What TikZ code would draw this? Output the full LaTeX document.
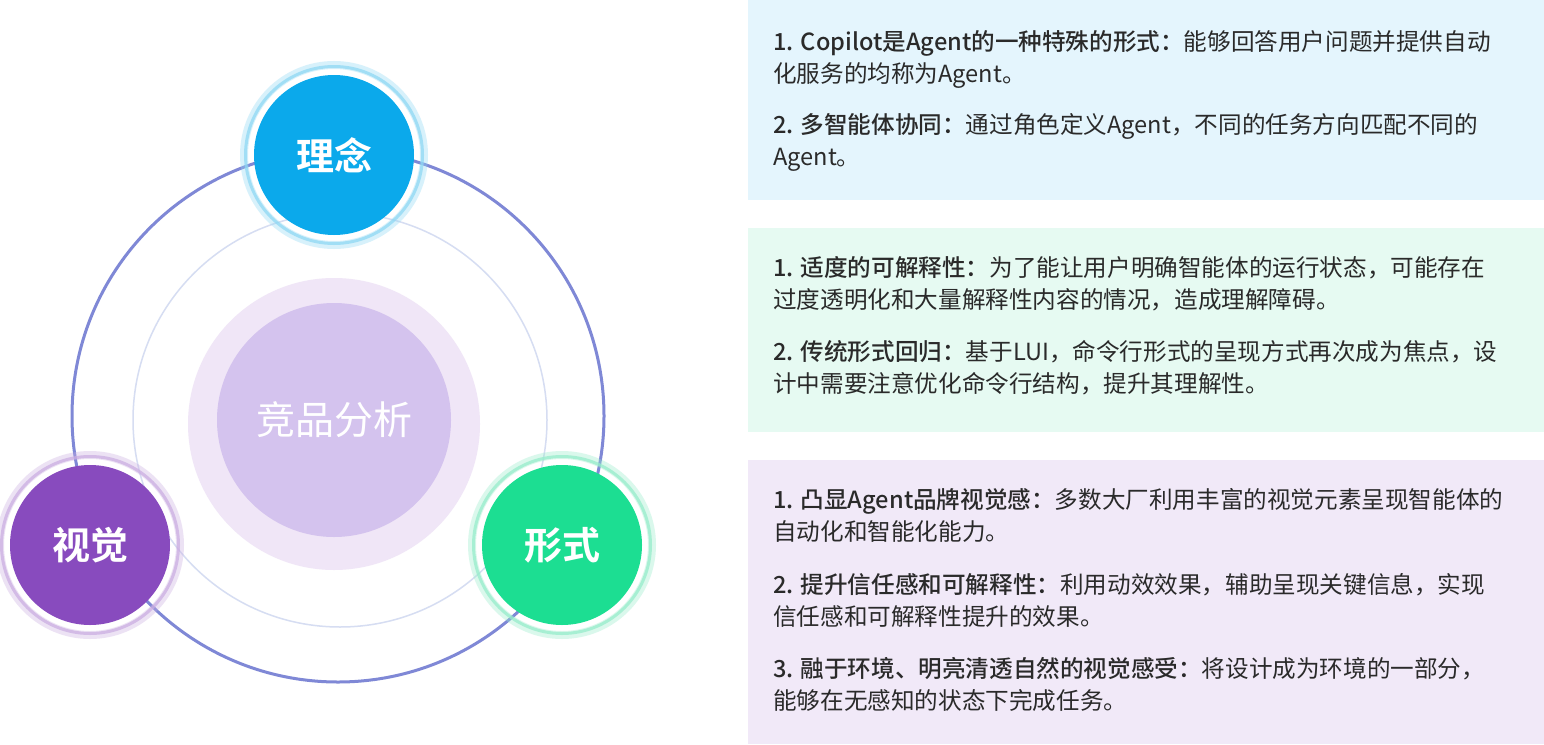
\documentclass[tikz,border=0pt]{standalone}
\usepackage{fontspec}
\setmainfont{Noto Sans CJK SC}[BoldFont={Noto Sans CJK SC Medium}]
\newfontfamily\hubfont{Noto Sans CJK SC Bold}
\definecolor{ringblue}{HTML}{7F88D6}
\definecolor{ringpale}{HTML}{D6DDF2}
\definecolor{coreglow}{HTML}{F0E6F7}
\definecolor{corefill}{HTML}{D4C3EE}
\definecolor{hubblue}{HTML}{0BA9EB}
\definecolor{hubpurple}{HTML}{884BBE}
\definecolor{hubgreen}{HTML}{1CDE92}
\definecolor{haloblue}{HTML}{8FD8F4}
\definecolor{halopurple}{HTML}{CBAEE2}
\definecolor{halogreen}{HTML}{97EDCB}
\definecolor{panelblue}{HTML}{E4F5FD}
\definecolor{panelgreen}{HTML}{E6FAF2}
\definecolor{panelpurple}{HTML}{F1E9F8}
\definecolor{txtgray}{HTML}{2A2A2A}
\begin{document}
\begin{tikzpicture}[x=1pt, y=-1pt,
  every node/.style={inner sep=0pt},
  hub/.style={circle, minimum size=160pt, text=white, font=\fontsize{38}{38}\hubfont},
  halo/.style={line width=8pt, opacity=0.35},
  halocore/.style={line width=3pt, opacity=0.75},
  para/.style={anchor=north west, align=left, text=txtgray, font=\fontsize{23.6}{32.5}\selectfont}]
  \useasboundingbox[fill=white] (0,0) rectangle (1544,744);
  % rings and centre
  \node[circle, minimum size=532pt, draw=ringblue, line width=3pt] (outer) at (338,416) {};
  \node[circle, minimum size=414pt, draw=ringpale, line width=1.5pt] (inner) at (340,420) {};
  \node[circle, minimum size=292pt, fill=coreglow] (glow) at (334,424) {};
  \node[circle, minimum size=234pt, fill=corefill, text=white, font=\fontsize{39}{39}\selectfont] (core) at (334,420) {竞品分析};
  % three hubs with halos
  \node[hub, fill=hubblue] (linian) at (334,155) {理念};
  \node[hub, fill=hubpurple] (shijue) at (90,545) {视觉};
  \node[hub, fill=hubgreen] (xingshi) at (562,545) {形式};
  \draw[halo, haloblue] (linian) circle[radius=90];
  \draw[halocore, haloblue] (linian) circle[radius=88.5];
  \draw[halo, halopurple] (shijue) circle[radius=90];
  \draw[halocore, halopurple] (shijue) circle[radius=88.5];
  \draw[halo, halogreen] (xingshi) circle[radius=90];
  \draw[halocore, halogreen] (xingshi) circle[radius=88.5];
  % right panels
  \fill[panelblue] (748,0) rectangle (1544,200);
  \fill[panelgreen] (748,228) rectangle (1544,432);
  \fill[panelpurple] (748,460) rectangle (1544,744);
  \node[para] (idea1) at (773,30) {\textbf{1. Copilot是Agent的一种特殊的形式：}能够回答用户问题并提供自动\\化服务的均称为Agent。};
  \node[para] (idea2) at (773,113) {\textbf{2. 多智能体协同：}通过角色定义Agent，不同的任务方向匹配不同的\\Agent。};
  \node[para] (form1) at (773,256) {\textbf{1. 适度的可解释性：}为了能让用户明确智能体的运行状态，可能存在\\过度透明化和大量解释性内容的情况，造成理解障碍。};
  \node[para] (form2) at (773,340) {\textbf{2. 传统形式回归：}基于LUI，命令行形式的呈现方式再次成为焦点，设\\计中需要注意优化命令行结构，提升其理解性。};
  \node[para] (vis1) at (773,488) {\textbf{1. 凸显Agent品牌视觉感：}多数大厂利用丰富的视觉元素呈现智能体的\\自动化和智能化能力。};
  \node[para] (vis2) at (773,573) {\textbf{2. 提升信任感和可解释性：}利用动效效果，辅助呈现关键信息，实现\\信任感和可解释性提升的效果。};
  \node[para] (vis3) at (773,657) {\textbf{3. 融于环境、明亮清透自然的视觉感受：}将设计成为环境的一部分，\\能够在无感知的状态下完成任务。};
\end{tikzpicture}
\end{document}
